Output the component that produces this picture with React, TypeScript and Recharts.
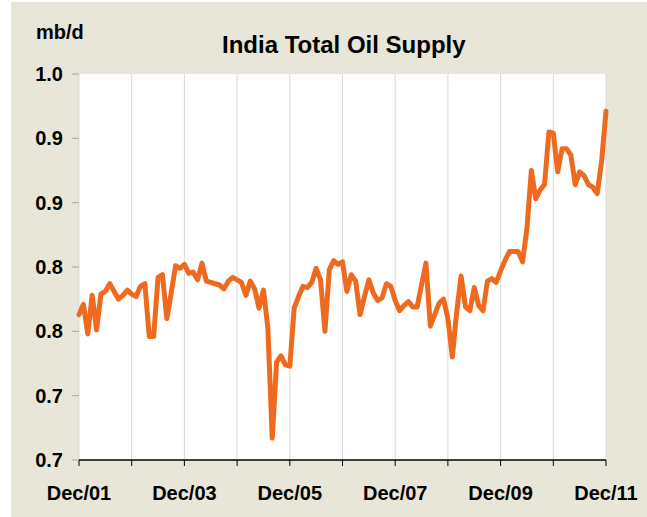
import { LineChart, Line, XAxis, YAxis, CartesianGrid } from "recharts";

// India total oil supply, monthly Dec 2001 - Dec 2011 (mb/d)
const supply = [
  0.813, 0.821, 0.798, 0.828, 0.801, 0.829, 0.831, 0.837, 0.831, 0.825, 0.828, 0.832,
  0.829, 0.827, 0.835, 0.837, 0.796, 0.796, 0.842, 0.844, 0.810, 0.830, 0.851, 0.849,
  0.852, 0.845, 0.846, 0.840, 0.853, 0.839, 0.838, 0.837, 0.836, 0.833, 0.839, 0.842,
  0.840, 0.838, 0.828, 0.839, 0.833, 0.818, 0.832, 0.803, 0.717, 0.776, 0.781, 0.774,
  0.773, 0.818, 0.827, 0.835, 0.834, 0.838, 0.849, 0.840, 0.800, 0.848, 0.855, 0.852,
  0.854, 0.831, 0.844, 0.839, 0.813, 0.827, 0.840, 0.830, 0.824, 0.826, 0.837, 0.835,
  0.824, 0.816, 0.820, 0.823, 0.819, 0.819, 0.836, 0.853, 0.804, 0.813, 0.822, 0.825,
  0.810, 0.780, 0.815, 0.843, 0.819, 0.816, 0.834, 0.820, 0.816, 0.839, 0.841, 0.838,
  0.847, 0.855, 0.862, 0.862, 0.862, 0.854, 0.880, 0.925, 0.903, 0.910, 0.914, 0.955,
  0.954, 0.924, 0.942, 0.942, 0.937, 0.914, 0.924, 0.921, 0.914, 0.912, 0.907, 0.932,
  0.971,
];

const xTicks = [0, 12, 24, 36, 48, 60, 72, 84, 96, 108, 120];
const xTickLabels = ["Dec/01", "", "Dec/03", "", "Dec/05", "", "Dec/07", "", "Dec/09", "", "Dec/11"];
const yTicks = [0.7, 0.75, 0.8, 0.85, 0.9, 0.95, 1.0];
const yTickLabels = ["0.7", "0.7", "0.8", "0.8", "0.9", "0.9", "1.0"];

const data = supply.map((v, i) => ({ month: i, value: v }));

const font = '"Liberation Sans", Arial, sans-serif';
const tickStyle = { fontSize: 20, fontWeight: 700, fill: "#000", fontFamily: font };

export default function App() {
  return (
    <div style={{ position: "absolute", left: 0, top: 0, width: 647, height: 517, background: "#fff" }}>
      <div style={{ position: "absolute", left: 11, top: 2, width: 636, height: 515, background: "#E7E6D8" }} />
      <div
        style={{
          position: "absolute", left: 36, top: 20, fontFamily: font,
          fontWeight: 700, fontSize: 20, lineHeight: "24px", color: "#000",
        }}
      >
        mb/d
      </div>
      <div
        style={{
          position: "absolute", left: 222, top: 31, fontFamily: font,
          fontWeight: 700, fontSize: 24, lineHeight: "28px", color: "#000", whiteSpace: "nowrap",
        }}
      >
        India Total Oil Supply
      </div>
      <div style={{ position: "absolute", left: 0, top: 0 }}>
        <LineChart width={647} height={517} data={data} margin={{ top: 74, right: 41, bottom: 0, left: 0 }}>
          <CartesianGrid horizontal={false} stroke="#D9D9D9" fill="#fff" />
          <XAxis
            dataKey="month"
            type="number"
            domain={[0, 120]}
            ticks={xTicks}
            interval={0}
            tickFormatter={(v: number) => xTickLabels[xTicks.indexOf(v)]}
            height={57}
            tick={tickStyle}
            tickSize={6}
            tickMargin={20}
            stroke="#000"
            axisLine={{ stroke: "#000", strokeWidth: 1.5 }}
            tickLine={{ stroke: "#000" }}
          />
          <YAxis
            type="number"
            domain={[0.7, 1.0]}
            ticks={yTicks}
            interval={0}
            tickFormatter={(_v: number, i: number) => yTickLabels[i]}
            width={79}
            tick={tickStyle}
            tickSize={7}
            tickMargin={9}
            axisLine={false}
            tickLine={{ stroke: "#A6A6A6" }}
          />
          <Line
            type="linear"
            dataKey="value"
            stroke="#EE6A1E"
            strokeWidth={5}
            strokeLinejoin="round"
            strokeLinecap="round"
            dot={false}
            isAnimationActive={false}
          />
        </LineChart>
      </div>
    </div>
  );
}
